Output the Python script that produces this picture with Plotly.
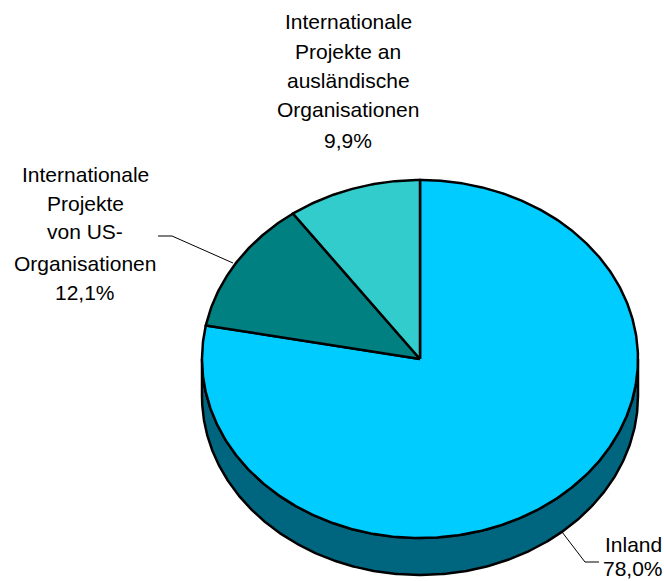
import numpy as np
import plotly.graph_objects as go

categories = ["Inland", "Internationale Projekte von US-Organisationen",
              "Internationale Projekte an ausländische Organisationen"]
shares = [78.0, 12.1, 9.9]
colors = ["#00CCFF", "#008080", "#33CCCC"]
rim_color = "#006680"
top_label = ["Internationale", "Projekte an", "ausländische", "Organisationen", "9,9%"]
left_label = ["Internationale", "Projekte", "von US-", "Organisationen", "12,1%"]
right_label = ["Inland", "78,0%"]

W, H = 664, 581
CX, CY, RX, RY, DEPTH = 420, 359, 218, 179, 37
FONT = dict(family="Liberation Sans, Arial, sans-serif", size=21, color="#000000")


def arc(a0, a1, drop=0.0):
    t = np.radians(np.linspace(a0, a1, max(int(abs(a1 - a0) * 2), 2)))
    return np.sin(t), np.cos(t) - drop


fig = go.Figure()
drop = DEPTH / RY
x0, y0 = arc(90, 270, drop)
x1, y1 = arc(270, 90)
fig.add_trace(go.Scatter(x=np.r_[x0, x1, x0[0]], y=np.r_[y0, y1, y0[0]], mode="lines",
                         fill="toself", fillcolor=rim_color,
                         line=dict(color="#000000", width=2.5), hoverinfo="skip"))
start = 0.0
for name, share, color in zip(categories, shares, colors):
    end = start + share * 3.6
    ax, ay = arc(start, end)
    fig.add_trace(go.Scatter(x=np.r_[0, ax, 0], y=np.r_[0, ay, 0], mode="lines", name=name,
                             fill="toself", fillcolor=color,
                             line=dict(color="#000000", width=2.5), text=f"{share}%", hoverinfo="name+text"))
    start = end

annotations = []
for lines, cx, ys in [(top_label, 348, [22, 51, 80, 109, 140]),
                      (left_label, 85, [175, 203, 232, 263, 292]),
                      (right_label, 633, [544, 568])]:
    for text, y in zip(lines, ys):
        annotations.append(dict(text=text, x=cx / W, y=1 - y / H, xref="paper", yref="paper",
                                xanchor="center", yanchor="middle", showarrow=False, font=FONT))


def leader(points):
    path = "M " + " L ".join(f"{x / W:.5f} {1 - y / H:.5f}" for x, y in points)
    return dict(type="path", path=path, xref="paper", yref="paper", line=dict(color="#000000", width=1))


fig.update_layout(
    width=W, height=H, showlegend=False, paper_bgcolor="#FFFFFF", plot_bgcolor="#FFFFFF",
    margin=dict(l=0, r=0, t=0, b=0),
    xaxis=dict(range=[-CX / RX, (W - CX) / RX], visible=False, fixedrange=True),
    yaxis=dict(range=[(CY - H) / RY, CY / RY], visible=False, fixedrange=True),
    annotations=annotations,
    shapes=[leader([(158, 236), (172, 236), (233, 263)]),
            leader([(562, 532), (585, 562), (599, 562)])],
)
fig.write_html("out.html", config=dict(displayModeBar=False),
               post_script="document.body.style.margin='0';document.body.style.overflow='hidden';")
